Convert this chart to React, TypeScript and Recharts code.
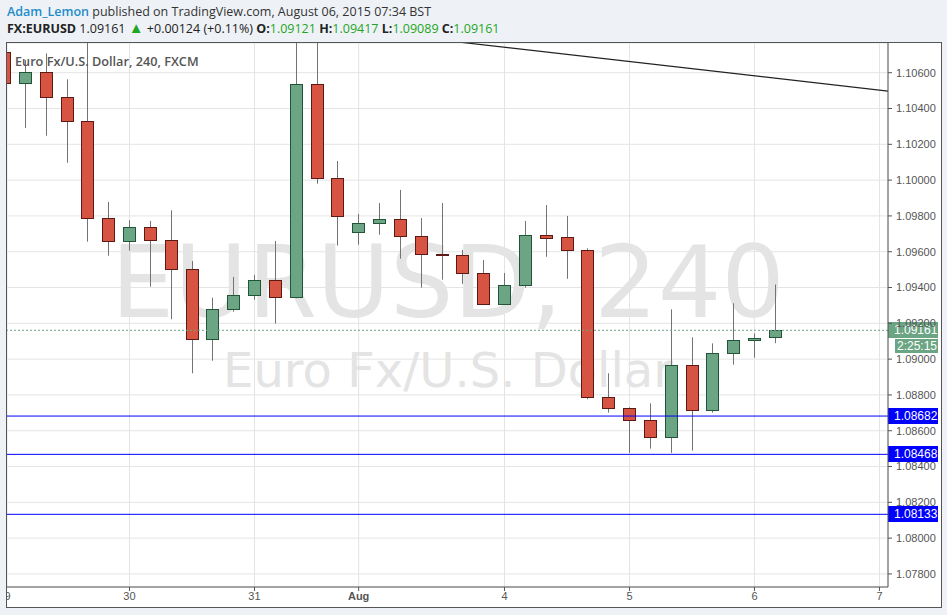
import {
  ComposedChart,
  Bar,
  XAxis,
  YAxis,
  CartesianGrid,
  ReferenceLine,
} from "recharts";

// 4h EURUSD candles, oldest first
const candleOpen = [
  1.10717, 1.10541, 1.10606, 1.10466, 1.10332, 1.09787, 1.09658, 1.09736, 1.09664, 1.09505,
  1.09111, 1.09278, 1.09357, 1.0944, 1.09345, 1.10535, 1.1001, 1.09708, 1.09759, 1.09781,
  1.09686, 1.09585, 1.0958, 1.09479, 1.09306, 1.09412, 1.09692, 1.0968, 1.09608, 1.08787,
  1.08725, 1.08658, 1.08563, 1.08966, 1.08714, 1.09033, 1.09105, 1.09121,
];
const candleHigh = [
  1.10749, 1.10671, 1.10708, 1.10563, 1.1079, 1.09878, 1.09776, 1.09772, 1.09831, 1.09548,
  1.09343, 1.09459, 1.0947, 1.0966, 1.1079, 1.1079, 1.10107, 1.09811, 1.09872, 1.09945,
  1.09788, 1.09872, 1.0961, 1.09554, 1.09481, 1.09772, 1.09861, 1.098, 1.09619, 1.08921,
  1.08731, 1.08753, 1.09278, 1.09122, 1.09088, 1.09312, 1.09144, 1.09417,
];
const candleLow = [
  1.10515, 1.10291, 1.10248, 1.10097, 1.09656, 1.09578, 1.09606, 1.09405, 1.09223, 1.08921,
  1.08991, 1.09265, 1.09332, 1.09198, 1.0934, 1.0998, 1.09634, 1.09639, 1.09695, 1.09561,
  1.09399, 1.09444, 1.09421, 1.09306, 1.09306, 1.09399, 1.09572, 1.09449, 1.08776, 1.08701,
  1.08476, 1.085, 1.08476, 1.08489, 1.08701, 1.08969, 1.09008, 1.09089,
];
const candleClose = [
  1.10541, 1.10606, 1.10466, 1.10332, 1.09787, 1.09658, 1.09736, 1.09664, 1.09505, 1.09111,
  1.09278, 1.09357, 1.0944, 1.09345, 1.10535, 1.1001, 1.09798, 1.09759, 1.09781, 1.09686,
  1.09586, 1.0958, 1.09479, 1.09306, 1.09412, 1.09692, 1.09678, 1.09608, 1.08787, 1.08725,
  1.08658, 1.08563, 1.08966, 1.08714, 1.09033, 1.09105, 1.09116, 1.09161,
];

const dayTicks = [0, 6, 12, 17, 24, 30, 36, 42];
const dayLabels = ["29", "30", "31", "Aug", "4", "5", "6", "7"];

const priceTicks = [
  1.078, 1.08, 1.082, 1.084, 1.086, 1.088, 1.09, 1.092, 1.094, 1.096, 1.098, 1.1, 1.102, 1.104,
  1.106,
];

const supportLevels = [1.08682, 1.08468, 1.08133];
const lastPrice = 1.09161;
const countdown = "2:25:15";
const trendLine = [
  { i: 21, price: 1.10782 },
  { i: 44, price: 1.10476 },
];

const candles = candleOpen.map((open, i) => ({
  i,
  open,
  high: candleHigh[i],
  low: candleLow[i],
  close: candleClose[i],
}));

const UP = "#6ba583";
const UP_BORDER = "#225437";
const DOWN = "#d75442";
const DOWN_BORDER = "#5b1a13";
const WICK = "#737375";
const GRID = "#e4e4e4";
const AXIS = "#555";
const LEVEL = "#0000ff";
const AXIS_FONT = '"Liberation Sans", Arial, sans-serif';
const UI_FONT = '"Open Sans", sans-serif';
const X_DOMAIN = [0.12, 42.41];
const Y_DOMAIN = [1.07727, 1.10766];

function CandleWick(props: any) {
  const { x, y, width, height } = props;
  const cx = Math.round(x) + width / 2 + 0.5;
  return <line x1={cx} x2={cx} y1={y} y2={y + height} stroke={WICK} strokeWidth={1} />;
}

function CandleBody(props: any) {
  const { x, y, width, height, payload } = props;
  const up = payload.close >= payload.open;
  const top = Math.round(y);
  const h = Math.max(1, Math.round(y + height) - top);
  return (
    <rect
      x={Math.round(x) + 0.5}
      y={top + 0.5}
      width={width}
      height={h}
      fill={up ? UP : DOWN}
      stroke={up ? UP_BORDER : DOWN_BORDER}
      strokeWidth={1}
    />
  );
}

function DayTick(props: any) {
  const { x, y, payload } = props;
  const label = dayLabels[dayTicks.indexOf(payload.value)];
  return (
    <text
      x={x}
      y={y}
      dy="0.71em"
      textAnchor="middle"
      fill={AXIS}
      fontSize={11}
      fontFamily={AXIS_FONT}
      fontWeight={label === "Aug" ? 700 : 400}
    >
      {label}
    </text>
  );
}

function PriceTag(props: any) {
  const { viewBox, text, bg, timer } = props;
  const left = viewBox.x + viewBox.width;
  const y = Math.round(viewBox.y);
  return (
    <g>
      <rect x={left} y={y - 8} width={50} height={16} fill={bg} />
      <text x={left + 6} y={y} dy="0.36em" fill="#fff" fontSize={12} fontFamily={AXIS_FONT}>
        {text}
      </text>
      {timer && (
        <>
          <rect x={left + 7} y={y + 9} width={43} height={14} fill={bg} />
          <text x={left + 9} y={y + 16} dy="0.36em" fill="#fff" fontSize={12} fontFamily={AXIS_FONT}>
            {timer}
          </text>
        </>
      )}
    </g>
  );
}

export default function App() {
  const green = { color: "#1fa51f" };
  return (
    <div
      style={{
        position: "absolute",
        left: 0,
        top: 0,
        width: 947,
        height: 615,
        background: "#eef2f6",
        fontFamily: UI_FONT,
        overflow: "hidden",
      }}
    >
      <div style={{ position: "absolute", left: 7, top: 3, fontSize: 12.5, lineHeight: "18px", color: "#333", whiteSpace: "nowrap" }}>
        <span style={{ color: "#1e8ccb", fontWeight: 600 }}>Adam_Lemon</span> published on TradingView.com, August 06, 2015 07:34 BST
      </div>
      <div style={{ position: "absolute", left: 7, top: 20, fontSize: 12.5, lineHeight: "18px", color: "#222", whiteSpace: "nowrap" }}>
        <b>FX:EURUSD</b> 1.09161 <span style={{ ...green, fontSize: 15, lineHeight: "14px" }}>▲</span> +0.00124 (+0.11%){" "}
        <b>O:</b>
        <span style={green}>1.09121</span> <b>H:</b>
        <span style={green}>1.09417</span> <b>L:</b>
        <span style={green}>1.09089</span> <b>C:</b>
        <span style={green}>1.09161</span>
      </div>

      <div
        style={{
          position: "absolute",
          left: 6,
          top: 42,
          width: 936,
          height: 566,
          boxSizing: "border-box",
          border: "1px solid #555",
          background: "#fff",
        }}
      />
      <svg style={{ position: "absolute", left: 7, top: 43 }} width={881} height={544}>
        <text x={441} y={274} textAnchor="middle" fill="#e4e4e4" fontSize={100} fontFamily="DejaVu Sans">
          EURUSD, 240
        </text>
        <text x={441} y={344} textAnchor="middle" fill="#e4e4e4" fontSize={48} fontFamily="DejaVu Sans">
          Euro Fx/U.S. Dollar
        </text>
      </svg>

      <div style={{ position: "absolute", left: 7, top: 43 }}>
        <ComposedChart width={934} height={564} data={candles} margin={{ top: 0, right: 0, bottom: 0, left: 0 }}>
          <CartesianGrid stroke={GRID} />
          <XAxis
            dataKey="i"
            type="number"
            domain={X_DOMAIN}
            allowDataOverflow
            ticks={dayTicks}
            interval={0}
            height={20}
            tickSize={4}
            tickMargin={1}
            stroke={AXIS}
            tick={<DayTick />}
          />
          <XAxis xAxisId="body" dataKey="i" type="number" domain={X_DOMAIN} allowDataOverflow hide />
          <YAxis
            orientation="right"
            type="number"
            domain={Y_DOMAIN}
            allowDataOverflow
            ticks={priceTicks}
            interval={0}
            width={53}
            tickSize={4}
            tickMargin={4}
            stroke={AXIS}
            tickFormatter={(v) => Number(v).toFixed(5)}
            tick={{ fill: AXIS, fontSize: 11, fontFamily: AXIS_FONT }}
          />
          <Bar
            dataKey={(d: any) => [d.low, d.high]}
            barSize={12}
            shape={<CandleWick />}
            isAnimationActive={false}
          />
          <Bar
            xAxisId="body"
            dataKey={(d: any) => [Math.min(d.open, d.close), Math.max(d.open, d.close)]}
            barSize={12}
            shape={<CandleBody />}
            isAnimationActive={false}
          />
          <ReferenceLine
            segment={trendLine.map((p) => ({ x: p.i, y: p.price }))}
            stroke="#222"
            strokeWidth={1.2}
            ifOverflow="hidden"
          />
          <ReferenceLine
            y={lastPrice}
            stroke={UP}
            strokeDasharray="2 2"
            label={(p: any) => <PriceTag {...p} text={lastPrice.toFixed(5)} bg={UP} timer={countdown} />}
          />
          {supportLevels.map((lvl) => (
            <ReferenceLine
              key={lvl}
              y={lvl}
              stroke={LEVEL}
              strokeWidth={1}
              label={(p: any) => <PriceTag {...p} text={lvl.toFixed(5)} bg={LEVEL} />}
            />
          ))}
        </ComposedChart>
      </div>

      <div
        style={{
          position: "absolute",
          left: 15,
          top: 52,
          fontSize: 12.7,
          lineHeight: "18px",
          fontWeight: 600,
          color: "#555",
          whiteSpace: "nowrap",
        }}
      >
        Euro Fx/U.S. Dollar, 240, FXCM
      </div>
    </div>
  );
}
